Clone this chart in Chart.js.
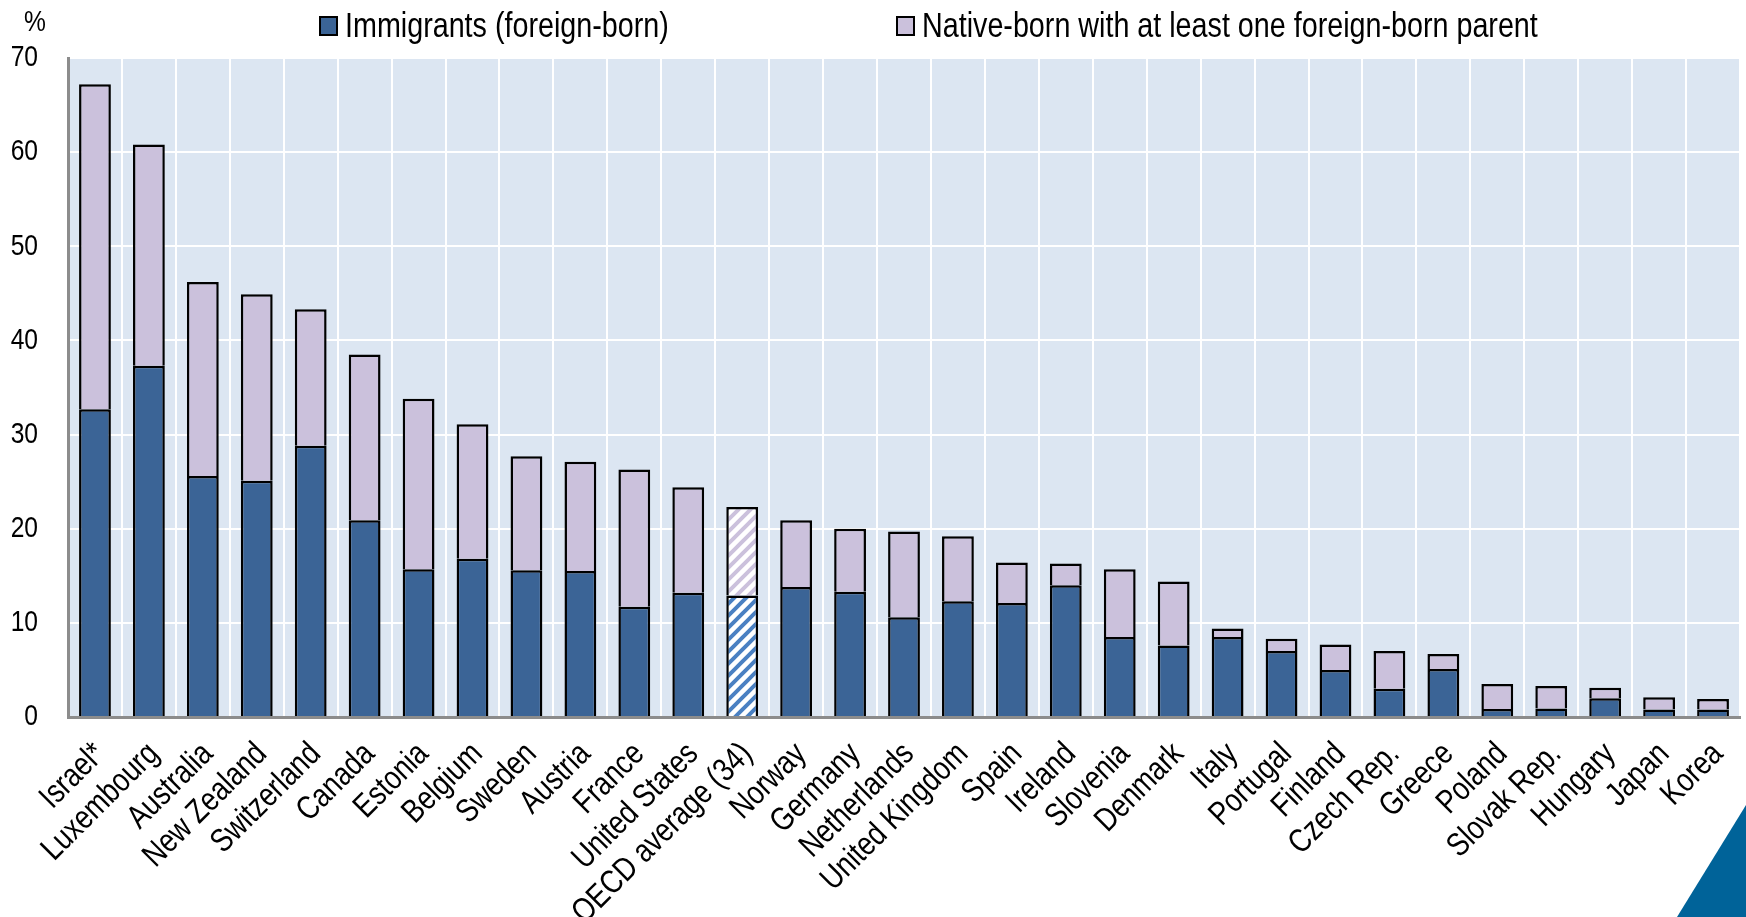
<!DOCTYPE html>
<html>
<head>
<meta charset="utf-8">
<title>Immigrants and native-born offspring of immigrants</title>
<script src="https://cdn.jsdelivr.net/npm/chart.js@4.4.1/dist/chart.umd.min.js"></script>
<style>
  html, body { margin: 0; padding: 0; background: #ffffff; }
  #wrap { width: 1746px; height: 917px; position: relative; }
</style>
</head>
<body>
<div id="wrap"><canvas id="chart" width="1746" height="917"></canvas></div>
<script>
// Countries, ordered by total share
const categories = [
  "Israel*", "Luxembourg", "Australia", "New Zealand", "Switzerland", "Canada",
  "Estonia", "Belgium", "Sweden", "Austria", "France", "United States",
  "OECD average (34)", "Norway", "Germany", "Netherlands", "United Kingdom",
  "Spain", "Ireland", "Slovenia", "Denmark", "Italy", "Portugal", "Finland",
  "Czech Rep.", "Greece", "Poland", "Slovak Rep.", "Hungary", "Japan", "Korea"
];

// Immigrants (foreign-born), %
const immigrants = [
  32.7, 37.3, 25.6, 25.1, 28.8, 20.9,
  15.7, 16.8, 15.6, 15.5, 11.7, 13.2,
  12.9, 13.8, 13.3, 10.6, 12.3,
  12.1, 14.0, 8.5, 7.6, 8.5, 7.0, 5.0,
  3.0, 5.1, 0.85, 0.9, 2.0, 0.8, 0.8
];

// Native-born with at least one foreign-born parent, %
const nativeBorn = [
  34.5, 23.5, 20.6, 19.8, 14.5, 17.6,
  18.1, 14.3, 12.1, 11.6, 14.6, 11.2,
  9.4, 7.1, 6.7, 9.1, 6.9,
  4.3, 2.3, 7.2, 6.8, 0.9, 1.3, 2.7,
  4.0, 1.6, 2.65, 2.4, 1.1, 1.3, 1.1
];

const seriesLabels = ["Immigrants (foreign-born)", "Native-born with at least one foreign-born parent"];
const yTicks = [0, 10, 20, 30, 40, 50, 60, 70];
const averageLabel = "OECD average (34)";

const FONT = "'Liberation Sans', Arial, sans-serif";
const COL_IMM = "#3b6496";
const COL_NAT = "#cbc1dc";
const COL_BG = "#dce6f2";

// No condensed face is installed, so all text on this canvas is drawn
// horizontally compressed to give a narrow sans look.
const NARROW = 0.82;
const canvas = document.getElementById("chart");
const ctx2d = canvas.getContext("2d");
const baseFillText = ctx2d.fillText.bind(ctx2d);
const baseMeasureText = ctx2d.measureText.bind(ctx2d);
ctx2d.fillText = function (text, x, y, maxWidth) {
  this.save();
  this.translate(x, y);
  this.scale(NARROW, 1);
  if (maxWidth !== undefined) baseFillText(text, 0, 0, maxWidth / NARROW);
  else baseFillText(text, 0, 0);
  this.restore();
};
ctx2d.measureText = function (text) {
  const m = baseMeasureText(text);
  return {
    width: m.width * NARROW,
    actualBoundingBoxLeft: m.actualBoundingBoxLeft * NARROW,
    actualBoundingBoxRight: m.actualBoundingBoxRight * NARROW,
    actualBoundingBoxAscent: m.actualBoundingBoxAscent,
    actualBoundingBoxDescent: m.actualBoundingBoxDescent,
    fontBoundingBoxAscent: m.fontBoundingBoxAscent,
    fontBoundingBoxDescent: m.fontBoundingBoxDescent
  };
};

// Diagonal hatching used for the average bar
function hatch(color) {
  const size = 12;
  const c = document.createElement("canvas");
  c.width = size; c.height = size;
  const g = c.getContext("2d");
  g.fillStyle = "#ffffff";
  g.fillRect(0, 0, size, size);
  g.strokeStyle = color;
  g.lineWidth = 4;
  g.beginPath();
  for (let k = -1; k <= 1; k++) {
    g.moveTo(k * size - 2, size + 2);
    g.lineTo(k * size + size + 2, -2);
  }
  g.stroke();
  return g.createPattern(c, "repeat");
}
const avgIdx = categories.indexOf(averageLabel);
const hatchImm = hatch("#4a80c2");
const hatchNat = hatch("#cbc1dc");

const plotBackground = {
  id: "plotBackground",
  beforeDraw(chart) {
    const { ctx, chartArea: a } = chart;
    ctx.save();
    ctx.fillStyle = COL_BG;
    ctx.fillRect(a.left, a.top, a.right - a.left, a.bottom - a.top);
    ctx.restore();
  }
};

const decorations = {
  id: "decorations",
  afterDraw(chart) {
    const ctx = chart.ctx;
    ctx.save();
    ctx.fillStyle = "#000";
    ctx.textBaseline = "alphabetic";
    ctx.textAlign = "left";
    // unit label
    ctx.font = "30px " + FONT;
    ctx.fillText("%", 24, 31);
    // legend
    ctx.font = "35px " + FONT;
    const items = [
      { x: 320, text: seriesLabels[0], color: COL_IMM },
      { x: 897, text: seriesLabels[1], color: COL_NAT }
    ];
    items.forEach(it => {
      ctx.fillStyle = it.color;
      ctx.fillRect(it.x, 17, 17, 18);
      ctx.lineWidth = 2;
      ctx.strokeStyle = "#000";
      ctx.strokeRect(it.x, 17, 17, 18);
      ctx.fillStyle = "#000";
      ctx.fillText(it.text, it.x + 25, 37);
    });
    // corner mark
    ctx.fillStyle = "#006399";
    ctx.beginPath();
    ctx.moveTo(1677, 917);
    ctx.lineTo(1746, 805);
    ctx.lineTo(1746, 917);
    ctx.closePath();
    ctx.fill();
    ctx.restore();
  }
};

new Chart(canvas, {
  type: "bar",
  data: {
    labels: categories,
    datasets: [
      {
        label: seriesLabels[0],
        data: immigrants,
        backgroundColor: c => c.dataIndex === avgIdx ? hatchImm : COL_IMM,
        borderColor: "#000",
        borderWidth: 2.5,
        borderSkipped: "start"
      },
      {
        label: seriesLabels[1],
        data: nativeBorn,
        backgroundColor: c => c.dataIndex === avgIdx ? hatchNat : COL_NAT,
        borderColor: "#000",
        borderWidth: 2.5,
        borderSkipped: "start"
      }
    ]
  },
  options: {
    responsive: false,
    animation: false,
    devicePixelRatio: 1,
    layout: { padding: { top: 58, right: 6, left: 0, bottom: 0 } },
    datasets: { bar: { categoryPercentage: 1, barPercentage: 0.59 } },
    plugins: {
      legend: { display: false },
      tooltip: { enabled: false }
    },
    scales: {
      x: {
        stacked: true,
        grid: { color: "#ffffff", lineWidth: 2, drawTicks: false, offset: true },
        border: { color: "#8c8c8c", width: 3 },
        ticks: {
          color: "#000",
          font: { family: FONT, size: 33 },
          minRotation: 45,
          maxRotation: 45,
          autoSkip: false,
          padding: 18,
          labelOffset: 5
        },
        afterFit: s => { s.height = 200; s.paddingLeft = 0; s.paddingRight = 0; }
      },
      y: {
        stacked: true,
        min: 0,
        max: 70,
        afterBuildTicks: s => { s.ticks = yTicks.map(v => ({ value: v })); },
        grid: { color: "#ffffff", lineWidth: 2, drawTicks: false },
        border: { color: "#8c8c8c", width: 3 },
        ticks: {
          color: "#000",
          font: { family: FONT, size: 30 },
          padding: 30
        },
        afterFit: s => { s.width = 68; }
      }
    }
  },
  plugins: [plotBackground, decorations]
});
</script>
</body>
</html>
